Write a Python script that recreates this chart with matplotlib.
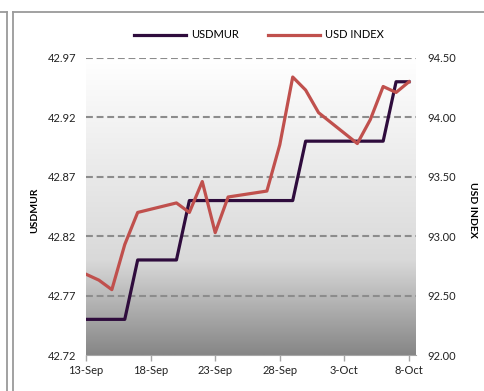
import numpy as np
import pandas as pd
import matplotlib
matplotlib.use('Agg')
import matplotlib.pyplot as plt
import matplotlib.dates as mdates
from matplotlib.colors import LinearSegmentedColormap
from matplotlib.lines import Line2D

plt.rcParams['font.family'] = ['Lato', 'DejaVu Sans']

# dados (dias úteis)
dates = ['2021-09-13', '2021-09-14', '2021-09-15', '2021-09-16', '2021-09-17',
         '2021-09-20', '2021-09-21', '2021-09-22', '2021-09-23', '2021-09-24',
         '2021-09-27', '2021-09-28', '2021-09-29', '2021-09-30', '2021-10-01',
         '2021-10-04', '2021-10-05', '2021-10-06', '2021-10-07', '2021-10-08']
usdmur = [42.75, 42.75, 42.75, 42.75, 42.80,
          42.80, 42.85, 42.85, 42.85, 42.85,
          42.85, 42.85, 42.85, 42.90, 42.90,
          42.90, 42.90, 42.90, 42.95, 42.95]
usd_index = [92.68, 92.63, 92.55, 92.93, 93.20,
             93.28, 93.20, 93.46, 93.03, 93.33,
             93.38, 93.77, 94.34, 94.23, 94.04,
             93.78, 93.98, 94.26, 94.21, 94.30]
left_ticks = [42.72, 42.77, 42.82, 42.87, 42.92, 42.97]
right_ticks = [92.0, 92.5, 93.0, 93.5, 94.0, 94.5]
x_ticks = ['2021-09-13', '2021-09-18', '2021-09-23', '2021-09-28', '2021-10-03', '2021-10-08']

d = pd.to_datetime(dates)
xt = pd.to_datetime(x_ticks)

fig = plt.figure(figsize=(4.84, 3.91), dpi=100)
ax = fig.add_axes([86/484, 1-355/391, 330/484, 297/391])
ax2 = ax.twinx()

# fundo em degradê
cmap = LinearSegmentedColormap.from_list('bg', [(0, '#ffffff'), (0.68, '#d9d9d9'), (1.0, '#868686')])
grad = np.linspace(0, 1, 256).reshape(-1, 1)
ax.imshow(grad, cmap=cmap, aspect='auto', extent=(0, 1, 0, 1), origin='upper',
          transform=ax.transAxes, zorder=0)

grid_col = '#8c8c8c'
for v in left_ticks[1:]:
    ax.axhline(v, color=grid_col, lw=1.5, dashes=(3.3, 1.8), zorder=1)

ax.plot(d, usdmur, color='#2f0c3d', lw=2.3, zorder=3, label='USDMUR')
ax2.plot(d, usd_index, color='#c0504d', lw=2.3, zorder=3, label='USD INDEX')

ax.set_ylim(42.72, 42.97)
ax.set_yticks(left_ticks)
ax.set_yticklabels([f'{v:.2f}' for v in left_ticks])
ax2.set_ylim(92.0, 94.5)
ax2.set_yticks(right_ticks)
ax2.set_yticklabels([f'{v:.2f}' for v in right_ticks])

ax.set_xlim(mdates.date2num(pd.Timestamp('2021-09-13')),
            mdates.date2num(pd.Timestamp('2021-10-08 13:00')))
ax.set_xticks(xt)
ax.xaxis.set_major_formatter(mdates.DateFormatter('%-d-%b'))

for a in (ax, ax2):
    for s in ('left', 'right', 'top'):
        a.spines[s].set_visible(False)
    a.spines['bottom'].set_color('#a6a6a6')
ax2.spines['bottom'].set_visible(False)
ax.tick_params(axis='y', length=0, pad=7, labelsize=8, colors='#222222')
ax2.tick_params(axis='y', length=0, pad=8, labelsize=8, colors='#222222')
ax.tick_params(axis='x', length=4, width=1, color='#a6a6a6', pad=3, labelsize=8, labelcolor='#222222')

fig.text(35/484, 1-210/391, 'USDMUR', rotation=90, ha='center', va='center',
         fontsize=7.5, fontweight='bold')
fig.text(473/484, 1-210/391, 'USD INDEX', rotation=270, ha='center', va='center',
         fontsize=7.5, fontweight='bold')

h1, l1 = ax.get_legend_handles_labels()
h2, l2 = ax2.get_legend_handles_labels()
fig.legend(h1 + h2, l1 + l2, loc='center', bbox_to_anchor=(259/484, 1-35/391),
           ncol=2, frameon=False, fontsize=8, handlelength=4.7, handletextpad=0.45,
           columnspacing=2.6)

# moldura
frame_col = '#9a9a9a'
fig.add_artist(Line2D([0, 7/484], [1-12/391, 1-12/391], color=frame_col, lw=1.3, transform=fig.transFigure))
fig.add_artist(Line2D([7/484, 7/484], [0, 1-12/391], color=frame_col, lw=1.3, transform=fig.transFigure))
fig.add_artist(Line2D([13/484, 1], [1-12/391, 1-12/391], color=frame_col, lw=1.3, transform=fig.transFigure))
fig.add_artist(Line2D([13/484, 13/484], [0, 1-12/391], color=frame_col, lw=1.3, transform=fig.transFigure))

fig.savefig('out.png', dpi=100)
